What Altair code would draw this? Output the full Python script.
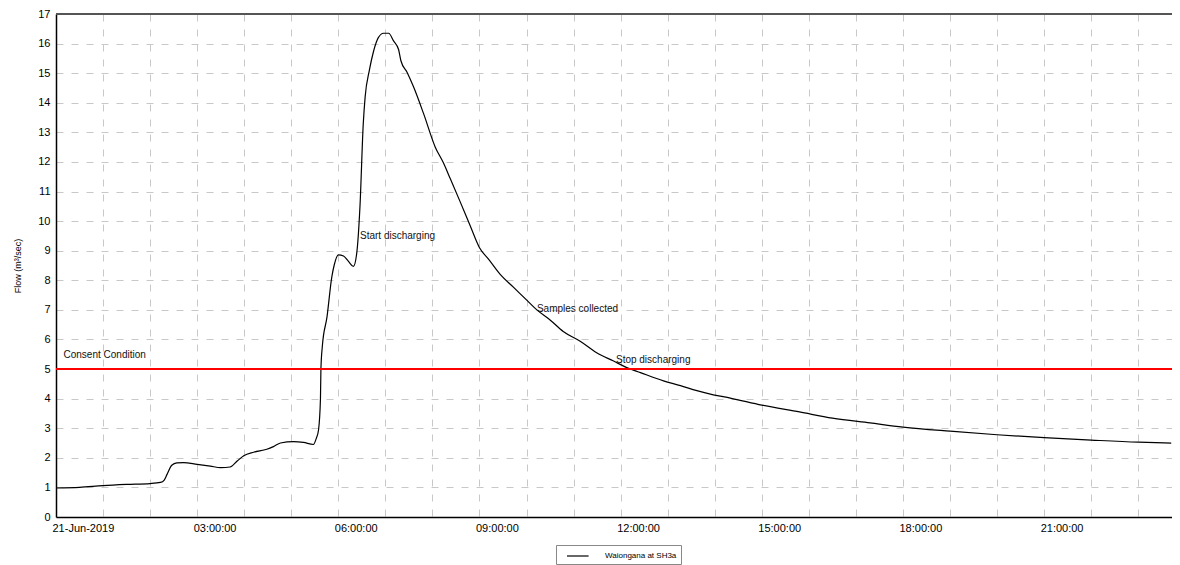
import altair as alt
import pandas as pd

# ---- data ----
HOURS = [0.0, 0.5, 1.0, 1.5, 2.0, 2.22, 2.3, 2.36, 2.46, 2.57, 2.71, 3.0, 3.28, 3.5, 3.7,
         3.85, 3.99, 4.2, 4.48, 4.62, 4.77, 5.05, 5.26, 5.47, 5.53, 5.58, 5.62, 5.63, 5.66,
         5.76, 5.86, 5.91, 6.0, 6.11, 6.22, 6.32, 6.39, 6.46, 6.53, 6.57, 6.66, 6.75, 6.85,
         6.96, 7.07, 7.17, 7.28, 7.33, 7.46, 7.6, 7.81, 8.06, 8.23, 8.38, 8.59, 8.8, 9.0,
         9.2, 9.44, 9.72, 10.01, 10.22, 10.5, 10.78, 11.14, 11.49, 11.85, 12.13, 12.42,
         12.91, 13.27, 13.62, 13.97, 14.33, 15.0, 15.8, 16.5, 17.3, 18.0, 19.0, 20.0,
         21.0, 22.0, 23.0, 23.7]
FLOW = [0.98, 1.00, 1.06, 1.10, 1.13, 1.17, 1.25, 1.44, 1.75, 1.83, 1.84, 1.78, 1.72, 1.67, 1.69,
        1.89, 2.07, 2.19, 2.29, 2.38, 2.50, 2.55, 2.52, 2.45, 2.65, 2.95, 4.0, 5.0, 5.77,
        6.77, 8.1, 8.5, 8.86, 8.82, 8.63, 8.47, 8.9, 10.5, 13.3, 14.2, 15.1, 15.75, 16.2,
        16.35, 16.35, 16.1, 15.8, 15.42, 15.03, 14.53, 13.64, 12.5, 11.98, 11.43, 10.65, 9.85, 9.1,
        8.7, 8.2, 7.77, 7.32, 7.0, 6.66, 6.27, 5.94, 5.55, 5.27, 5.05, 4.88,
        4.6, 4.44, 4.27, 4.13, 4.02, 3.78, 3.55, 3.34, 3.18, 3.04, 2.9, 2.78,
        2.68, 2.6, 2.53, 2.5]
SERIES = "Waiongana at SH3a"
CONSENT = 5.0
TOP_FLOW = 17.0
NOTE_TEXT = ["Consent Condition", "Start discharging", "Samples collected", "Stop discharging"]
NOTE_HOURS = [0.16, 6.46, 10.22, 11.9]
NOTE_FLOW = [5.46, 9.51, 7.04, 5.32]
Y_TICKS = [float(v) for v in range(0, 18)]
X_TICK_HOURS = list(range(0, 24))

FONT = "Liberation Sans"
base_day = pd.Timestamp("2019-06-21")


def to_time(h):
    return (base_day + pd.to_timedelta(h, unit="h")).strftime("%Y-%m-%dT%H:%M:%S")


flow_df = pd.DataFrame({"time": [to_time(h) for h in HOURS], "flow": FLOW, "series": SERIES})
note_df = pd.DataFrame({"time": [to_time(h) for h in NOTE_HOURS], "flow": NOTE_FLOW, "label": NOTE_TEXT})
rule_df = pd.DataFrame({"flow": [CONSENT]})
top_df = pd.DataFrame({"flow": [TOP_FLOW]})

xscale = alt.Scale(domain=[alt.DateTime(year=2019, month=6, date=21, hours=0),
                           alt.DateTime(year=2019, month=6, date=21, hours=23, minutes=43)])
yscale = alt.Scale(domain=[0, 17], nice=False, zero=False)

YTITLE = "Flow (m\u00b3/sec)"

yaxis = alt.Axis(values=Y_TICKS, grid=True, gridColor="#c8c8c8", gridDash=[7, 8],
                 gridWidth=1, ticks=False, domainColor="black", domainWidth=1.5,
                 labelFontSize=11, labelFont=FONT, labelColor="black",
                 labelPadding=6, labelFlush=False, labelOverlap=False, labelBound=False,
                 labelBaseline="middle",
                 titleFontSize=9, titleFont=FONT, titleFontWeight="normal", titleColor="black",
                 titlePadding=15)

label_expr = ("hours(datum.value) % 3 != 0 ? '' : (hours(datum.value) == 0 ? "
              "timeFormat(datum.value, '%d-%b-%Y') : timeFormat(datum.value, '%H:%M:%S'))")

xaxis = alt.Axis(values=[alt.DateTime(year=2019, month=6, date=21, hours=h) for h in X_TICK_HOURS],
                 labelExpr=label_expr,
                 grid=True, gridColor="#c8c8c8", gridDash=[7, 8], gridWidth=1,
                 ticks=False, domainColor="black", domainWidth=1.5,
                 labelAlign="left", labelOffset=-4, labelPadding=5,
                 labelFontSize=11, labelFont=FONT, labelColor="black",
                 labelOverlap=False, labelFlush=False)


def yenc():
    return alt.Y("flow:Q", scale=yscale, title=YTITLE, axis=yaxis)


def xenc():
    return alt.X("time:T", scale=xscale, title=None, axis=xaxis)


line = alt.Chart(flow_df).mark_line(strokeWidth=1.2, interpolate="monotone").encode(
    x=xenc(),
    y=yenc(),
    color=alt.Color("series:N", scale=alt.Scale(range=["black"]),
                    legend=alt.Legend(title=None, orient="none", legendX=500, legendY=531,
                                      direction="horizontal", symbolType="M0,0H3.6",
                                      symbolSize=144, symbolStrokeWidth=1.2,
                                      symbolStrokeColor="black",
                                      labelFontSize=8, labelFont=FONT,
                                      labelColor="black", labelOffset=31, padding=4,
                                      strokeColor="#888888", fillColor="white")),
)

rule = alt.Chart(rule_df).mark_rule(color="#ff0000", strokeWidth=2).encode(y=yenc())

top = alt.Chart(top_df).mark_rule(color="#555555", strokeWidth=2).encode(y=yenc())

notes = alt.Chart(note_df).mark_text(align="left", baseline="middle", fontSize=10, font=FONT,
                                     color="#111111").encode(
    x=xenc(),
    y=yenc(),
    text="label:N",
)

chart = alt.layer(line, rule, top, notes).properties(
    width=1116, height=503,
    padding={"left": 48, "top": 6, "right": 0, "bottom": 48},
    autosize=alt.AutoSizeParams(type="none"),
).configure_view(strokeWidth=0).configure_axis(labelOverlap=False)

chart.save("out.html", embed_options={"renderer": "svg", "actions": False})
